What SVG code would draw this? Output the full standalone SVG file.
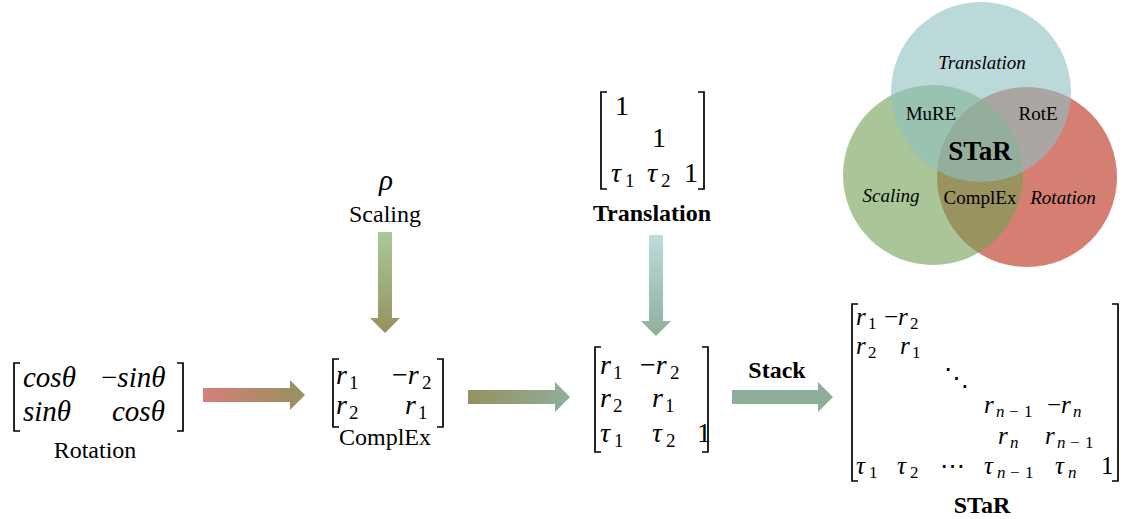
<svg xmlns="http://www.w3.org/2000/svg" width="1126" height="519" viewBox="0 0 1126 519" font-family="'Liberation Serif','Times New Roman',serif">
<style>
text{font-family:"Liberation Serif","Times New Roman",serif;fill:#000}
.m{font-style:italic;font-size:28px}
.mr{font-style:italic;font-size:29px}
.mb{font-style:italic;font-size:25px}
.u{font-style:normal}
.s{font-style:normal;font-size:19px}
.sm{font-style:normal;font-size:17px}
.sb{font-style:italic;font-size:17px}
.lbl{font-size:24px;text-anchor:middle}
.bold{font-weight:bold}
.vt{font-size:19px;text-anchor:middle}
.br{fill:none;stroke:#000;stroke-width:1.7}
.dots{font-family:"DejaVu Serif",serif;font-style:normal}
</style>
<defs>
<linearGradient id="gRot" x1="0" y1="0" x2="1" y2="0"><stop offset="0" stop-color="#d4807a"/><stop offset="1" stop-color="#96915f"/></linearGradient>
<linearGradient id="gCx" x1="0" y1="0" x2="1" y2="0"><stop offset="0" stop-color="#96915f"/><stop offset="1" stop-color="#8fae9a"/></linearGradient>
<linearGradient id="gSc" x1="0" y1="0" x2="0" y2="1"><stop offset="0" stop-color="#a9c998"/><stop offset="1" stop-color="#96915f"/></linearGradient>
<linearGradient id="gTr" x1="0" y1="0" x2="0" y2="1"><stop offset="0" stop-color="#bddcdc"/><stop offset="1" stop-color="#8fae9a"/></linearGradient>
</defs>

<g id="venn">
<circle cx="1027" cy="177" r="90" fill="#d47f72"/>
<circle cx="933" cy="175" r="90" fill="rgb(113,160,83)" fill-opacity="0.6"/>
<circle cx="981" cy="92" r="90" fill="rgb(143,192,193)" fill-opacity="0.6"/>
<text class="vt" x="982" y="69" font-style="italic">Translation</text>
<text class="vt" x="931" y="120">MuRE</text>
<text class="vt" x="1038" y="120">RotE</text>
<text x="980" y="160" font-size="27" font-weight="bold" text-anchor="middle">STaR</text>
<text class="vt" x="891" y="202" font-style="italic">Scaling</text>
<text class="vt" x="980" y="204">ComplEx</text>
<text class="vt" x="1063" y="204" font-style="italic">Rotation</text>
</g>

<g id="connectors">
<polygon points="203,388 290,388 290,380 305,395 290,410 290,402 203,402" fill="url(#gRot)"/>
<polygon points="468,390 555,390 555,382 570,397 555,412 555,404 468,404" fill="url(#gCx)"/>
<polygon points="732,390 818,390 818,382 833,397 818,412 818,404 732,404" fill="#8fae9a"/>
<polygon points="378,232 392,232 392,318 400,318 385,333 370,318 378,318" fill="url(#gSc)"/>
<polygon points="649,235 663,235 663,321 671,321 656,336 641,321 649,321" fill="url(#gTr)"/>
<text class="bold" x="777" y="378" font-size="24" text-anchor="middle">Stack</text>
</g>

<g id="rotation">
<path class="br" d="M20,363 H14 V431 H20"/>
<path class="br" d="M177,363 H183 V431 H177"/>
<text class="mr" x="23" y="387">cosθ</text>
<text class="mr" x="101" y="387"><tspan class="u">−</tspan>sinθ</text>
<text class="mr" x="23" y="421">sinθ</text>
<text class="mr" x="112" y="421">cosθ</text>
<text class="lbl" x="95" y="458">Rotation</text>
</g>

<g id="scaling">
<text class="mr" x="386" y="190" text-anchor="middle">ρ</text>
<text class="lbl" x="385" y="222">Scaling</text>
</g>

<g id="complex">
<path class="br" d="M339,359 H333 V427 H339"/>
<path class="br" d="M437,359 H443 V427 H437"/>
<text class="m" x="336" y="384">r<tspan class="s" x="349" dy="5">1</tspan></text>
<text class="m" x="392" y="384"><tspan class="u">−</tspan>r<tspan class="s" x="422" dy="5">2</tspan></text>
<text class="m" x="336" y="414">r<tspan class="s" x="349" dy="5">2</tspan></text>
<text class="m" x="405" y="414">r<tspan class="s" x="418" dy="5">1</tspan></text>
<text class="lbl" x="385" y="445">ComplEx</text>
</g>

<g id="translation">
<path class="br" d="M607,92 H601 V189 H607"/>
<path class="br" d="M698,92 H704 V189 H698"/>
<text class="m u" x="615" y="115">1</text>
<text class="m u" x="652" y="147">1</text>
<text class="m" x="611" y="182">τ<tspan class="s" x="625" dy="5">1</tspan></text>
<text class="m" x="647" y="182">τ<tspan class="s" x="661" dy="5">2</tspan></text>
<text class="m u" x="684" y="182">1</text>
<text class="lbl bold" x="652" y="221" font-size="23">Translation</text>
</g>

<g id="combined">
<path class="br" d="M601,347 H595 V452 H601"/>
<path class="br" d="M702,347 H708 V452 H702"/>
<text class="m" x="600" y="374">r<tspan class="s" x="613" dy="5">1</tspan></text>
<text class="m" x="640" y="374"><tspan class="u">−</tspan>r<tspan class="s" x="670" dy="5">2</tspan></text>
<text class="m" x="600" y="407">r<tspan class="s" x="613" dy="5">2</tspan></text>
<text class="m" x="652" y="407">r<tspan class="s" x="665" dy="5">1</tspan></text>
<text class="m" x="600" y="442">τ<tspan class="s" x="614" dy="5">1</tspan></text>
<text class="m" x="652" y="442">τ<tspan class="s" x="666" dy="5">2</tspan></text>
<text class="m u" x="697" y="442">1</text>
</g>

<g id="star">
<path class="br" d="M858,304 H852 V481 H858"/>
<path class="br" d="M1112,304 H1118 V481 H1112"/>
<text class="mb" x="856" y="325">r<tspan class="sm" x="868" dy="4">1</tspan></text>
<text class="mb" x="884" y="325"><tspan class="u">−</tspan>r<tspan class="sm" x="910" dy="4">2</tspan></text>
<text class="mb" x="856" y="354">r<tspan class="sm" x="868" dy="4">2</tspan></text>
<text class="mb" x="900" y="354">r<tspan class="sm" x="912" dy="4">1</tspan></text>
<text class="mb dots" x="944" y="386">⋱</text>
<text class="mb" x="984" y="413">r<tspan class="sb" x="996" dy="4">n</tspan><tspan class="sm" x="1009">−</tspan><tspan class="sm" x="1024">1</tspan></text>
<text class="mb" x="1047" y="413"><tspan class="u">−</tspan>r<tspan class="sb" x="1073" dy="4">n</tspan></text>
<text class="mb" x="998" y="444">r<tspan class="sb" x="1010" dy="4">n</tspan></text>
<text class="mb" x="1045" y="444">r<tspan class="sb" x="1057" dy="4">n</tspan><tspan class="sm" x="1070">−</tspan><tspan class="sm" x="1085">1</tspan></text>
<text class="mb" x="856" y="474">τ<tspan class="sm" x="869" dy="4">1</tspan></text>
<text class="mb" x="897" y="474">τ<tspan class="sm" x="910" dy="4">2</tspan></text>
<text class="mb dots" x="940" y="474">⋯</text>
<text class="mb" x="984" y="474">τ<tspan class="sb" x="997" dy="4">n</tspan><tspan class="sm" x="1010">−</tspan><tspan class="sm" x="1025">1</tspan></text>
<text class="mb" x="1055" y="474">τ<tspan class="sb" x="1068" dy="4">n</tspan></text>
<text class="mb u" x="1101" y="474">1</text>
<text class="lbl bold" x="982" y="513" font-size="25">STaR</text>
</g>
</svg>
